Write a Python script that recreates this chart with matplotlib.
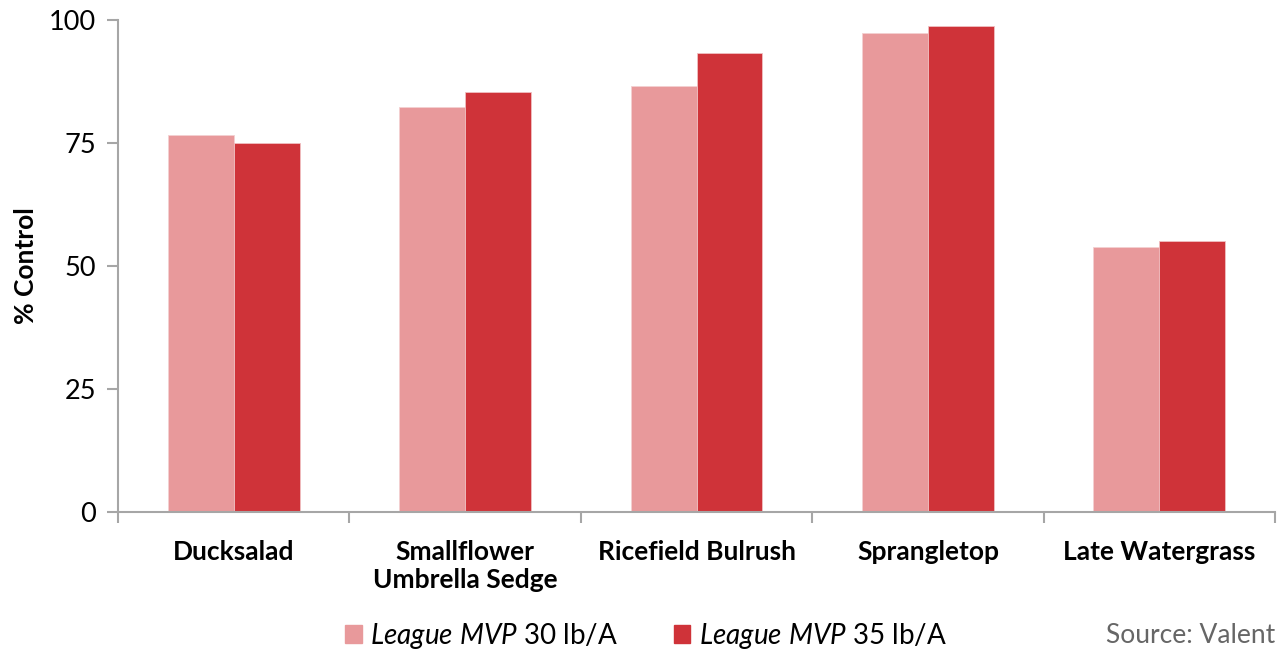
import matplotlib
matplotlib.use("Agg")
import matplotlib.pyplot as plt
import numpy as np
from matplotlib.patches import Patch

categories = ["Ducksalad", "Smallflower\nUmbrella Sedge", "Ricefield Bulrush", "Sprangletop", "Late Watergrass"]
mvp30 = [76.6, 82.3, 86.6, 97.4, 53.9]
mvp35 = [75.0, 85.4, 93.3, 98.8, 55.1]
series_labels = [r"$\mathit{League\ MVP}$ 30 lb/A", r"$\mathit{League\ MVP}$ 35 lb/A"]
yticks = [0, 25, 50, 75, 100]

plt.rcParams['font.family'] = ['Lato', 'DejaVu Sans']
plt.rcParams['mathtext.fontset'] = 'custom'
plt.rcParams['mathtext.it'] = 'Lato:italic'
plt.rcParams['mathtext.rm'] = 'Lato'

c_light = "#E8999B"
c_dark = "#CF3339"
gray = "#A6A6A6"

fig = plt.figure(figsize=(12.79, 6.52), dpi=100)
ax = fig.add_axes([0.0923, 0.2147, 0.9046, 0.7546])

x = np.arange(len(categories))
w = 0.285
ax.bar(x - w/2, mvp30, w, color=c_light, edgecolor="#F3D0D1", linewidth=0.6, label=series_labels[0])
ax.bar(x + w/2, mvp35, w, color=c_dark, edgecolor="#F0C0C2", linewidth=0.6, label=series_labels[1])

ax.set_xlim(-0.5, len(categories) - 0.5)
ax.set_ylim(0, 100)
ax.set_yticks(yticks)
ax.set_yticklabels([str(t) for t in yticks], fontsize=19.5)
ax.set_xticks(x)
ax.set_xticklabels(categories, fontsize=19, fontweight='bold', linespacing=1.2)
ax.tick_params(axis='x', length=0, pad=20)
ax.set_xticks(np.arange(len(categories) + 1) - 0.5, minor=True)
ax.tick_params(axis='x', which='minor', length=8, color=gray, width=1.5)
ax.tick_params(axis='y', length=8, color=gray, width=1.5, pad=8)

for s in ['top', 'right']:
    ax.spines[s].set_visible(False)
for s in ['left', 'bottom']:
    ax.spines[s].set_color(gray)
    ax.spines[s].set_linewidth(1.5)

ax.set_ylabel("% Control", fontsize=19, fontweight='bold', labelpad=8)

handles = [Patch(color=c_light), Patch(color=c_dark)]
fig.legend(handles, series_labels, loc='center', bbox_to_anchor=(0.505, 0.025),
           ncol=2, frameon=False, fontsize=20, handlelength=0.6, handleheight=0.6,
           handletextpad=0.3, columnspacing=2.0)

fig.text(0.997, 0.025, "Source: Valent", ha='right', va='center', fontsize=19, color="#666666")

fig.savefig("out.png", dpi=100)
